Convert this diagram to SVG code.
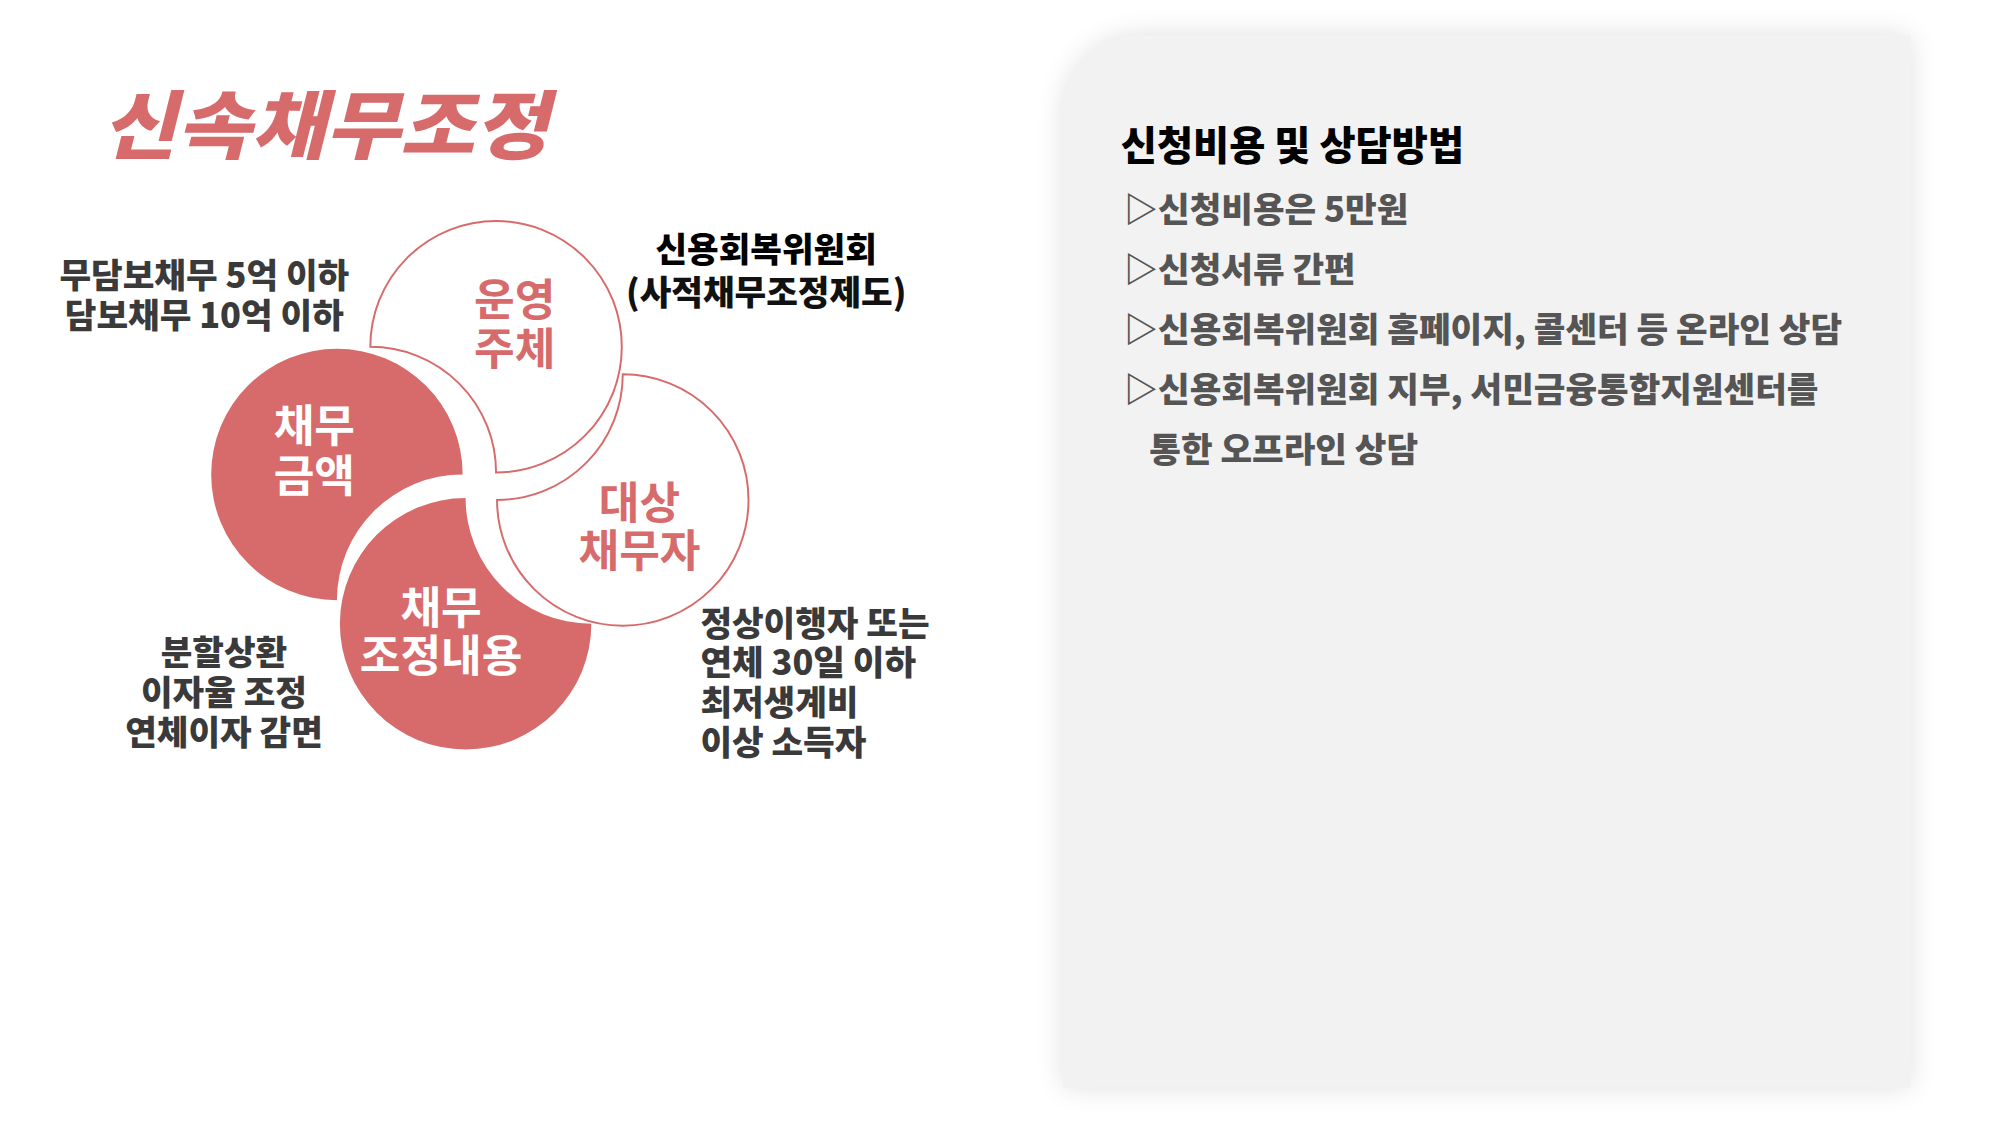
<svg xmlns="http://www.w3.org/2000/svg" width="2000" height="1125" viewBox="0 0 2000 1125">
<defs>
<filter id="sh" x="-10%" y="-10%" width="120%" height="120%"><feGaussianBlur stdDeviation="14"/></filter>
<style>
text{font-family:"Noto Sans CJK KR","Noto Sans",sans-serif;font-weight:900}
.red{fill:#d76b6b}
.wl{fill:#fff;stroke:#d76b6b;stroke-width:2}
.in-w{fill:#fff;font-size:45px;text-anchor:middle;font-weight:700}
.in-r{fill:#d76b6b;font-size:45px;text-anchor:middle;font-weight:700}
.lab{fill:#3a3a3a;font-size:35px}
.mid{text-anchor:middle}
.item{fill:#555;font-size:35px}
</style>
</defs>
<rect width="2000" height="1125" fill="#fff"/>
<g transform="scale(0.9823)">
<g id="panel">
<path d="M1162,36 H1945 V1107 H1082 V116 A80,80 0 0 1 1162,36 Z" fill="#000" opacity="0.12" filter="url(#sh)"/>
<path d="M1162,36 H1945 V1107 H1082 V116 A80,80 0 0 1 1162,36 Z" fill="#f2f2f2"/>
<text x="1141" y="163" font-size="40" fill="#000">신청비용 및 상담방법</text>
<text class="item" x="1144" y="226">▷신청비용은 5만원</text>
<text class="item" x="1144" y="287">▷신청서류 간편</text>
<text class="item" x="1144" y="348">▷신용회복위원회 홈페이지, 콜센터 등 온라인 상담</text>
<text class="item" x="1144" y="409">▷신용회복위원회 지부, 서민금융통합지원센터를</text>
<text class="item" x="1170" y="470">통한 오프라인 상담</text>
</g>
<g id="title"><text transform="translate(104,156) skewX(-14)" font-size="76" font-weight="900" fill="#d76b6b" textLength="455" lengthAdjust="spacingAndGlyphs">신속채무조정</text></g>
<g id="n-operator">
<path class="wl" d="M377,353 A128,128 0 1 1 505,481 A128,128 0 0 0 377,353 Z"/>
<text class="in-r" x="524" y="322">운영</text><text class="in-r" x="524" y="372">주체</text>
</g>
<g id="n-amount">
<path class="red" d="M343,611 A128,128 0 1 1 471,483 A128,128 0 0 0 343,611 Z"/>
<text class="in-w" x="320" y="450">채무</text><text class="in-w" x="320" y="501">금액</text>
</g>
<g id="n-content">
<path class="red" d="M602,635 A128,128 0 1 1 474,507 A128,128 0 0 0 602,635 Z"/>
<text class="in-w" x="449" y="635">채무</text><text class="in-w" x="449" y="684">조정내용</text>
</g>
<g id="n-target">
<path class="wl" d="M634,381 A128,128 0 1 1 506,509 A128,128 0 0 0 634,381 Z"/>
<text class="in-r" x="651" y="528">대상</text><text class="in-r" x="651" y="577">채무자</text>
</g>
<g id="labels">
<text class="lab mid" x="208" y="293">무담보채무 5억 이하</text>
<text class="lab mid" x="208" y="334">담보채무 10억 이하</text>
<text class="lab mid" x="780" y="267" style="fill:#000">신용회복위원회</text>
<text class="lab mid" x="780" y="311" style="fill:#111">(사적채무조정제도)</text>
<text class="lab mid" x="228" y="677">분할상환</text>
<text class="lab mid" x="228" y="718">이자율 조정</text>
<text class="lab mid" x="228" y="758">연체이자 감면</text>
<text class="lab" x="713" y="647">정상이행자 또는</text>
<text class="lab" x="713" y="687">연체 30일 이하</text>
<text class="lab" x="713" y="728">최저생계비</text>
<text class="lab" x="713" y="769">이상 소득자</text>
</g>
<g id="connectors"/>
</g>
</svg>
